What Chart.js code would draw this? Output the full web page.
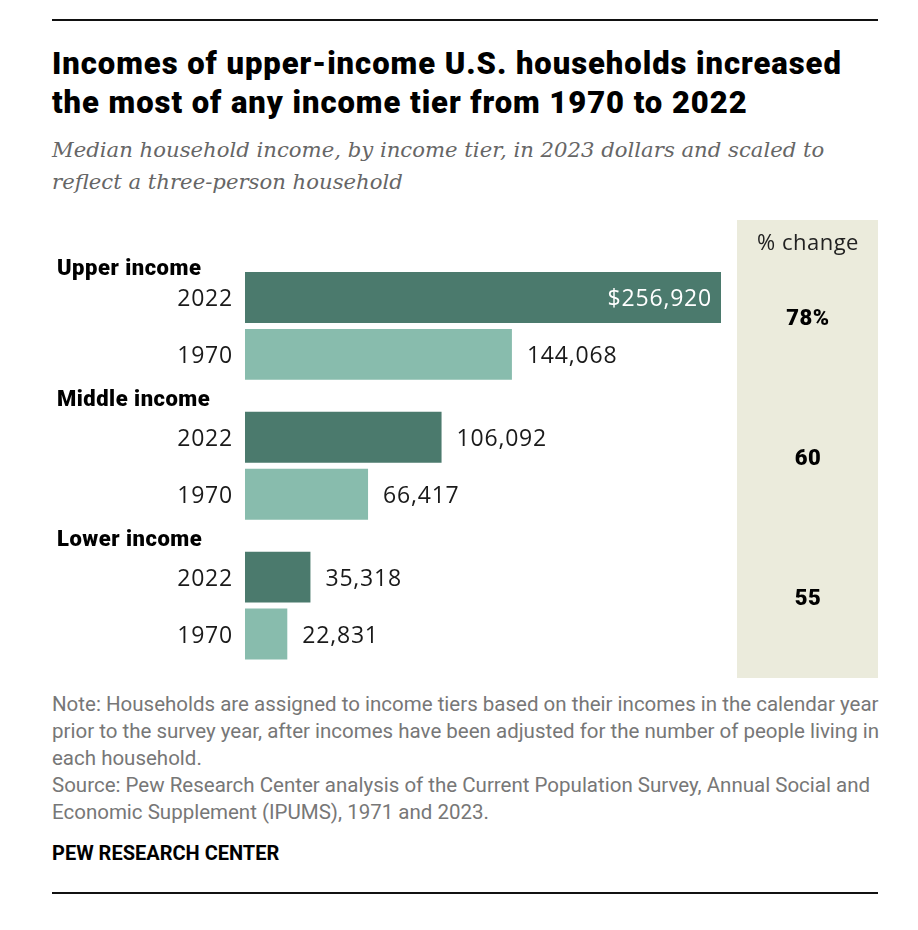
<!DOCTYPE html>
<html lang="en">
<head>
<meta charset="UTF-8">
<title>Incomes by income tier</title>
<script src="https://cdn.jsdelivr.net/npm/chart.js"></script>
<style>
  body { margin: 0; background: #fff; width: 918px; height: 930px; position: relative; overflow: hidden; }
  .rule { position: absolute; left: 52px; width: 826px; height: 2px; background: #111; }
  .title { position: absolute; left: 52px; top: 44px; font: 900 31px/39px Roboto, "Liberation Sans", sans-serif; color: #000; white-space: nowrap; letter-spacing: 0.95px; }
  .subtitle { position: absolute; left: 52px; top: 134px; font: italic 21.2px/32px "DejaVu Serif", serif; color: #666; white-space: nowrap; }
  .note { position: absolute; left: 52px; top: 691px; font: 20.5px/27px Roboto, sans-serif; color: #777; white-space: nowrap; letter-spacing: 0px; }
  .brand { position: absolute; left: 52px; top: 841px; font: bold 20px/24px Roboto, sans-serif; color: #000; white-space: nowrap; }
  #wrap { position: absolute; left: 0; top: 215px; width: 918px; height: 470px; }
</style>
</head>
<body>
<div class="rule" style="top:19px"></div>
<div class="title">Incomes of upper-income U.S. households increased<br>the most of any income tier from 1970 to 2022</div>
<div class="subtitle">Median household income, by income tier, in 2023 dollars and scaled to<br>reflect a three-person household</div>
<div id="wrap"><canvas id="chart" width="918" height="470"></canvas></div>
<div class="note">Note: Households are assigned to income tiers based on their incomes in the calendar year<br>prior to the survey year, after incomes have been adjusted for the number of people living in<br>each household.<br>Source: Pew Research Center analysis of the Current Population Survey, Annual Social and<br>Economic Supplement (IPUMS), 1971 and 2023.</div>
<div class="brand">PEW RESEARCH CENTER</div>
<div class="rule" style="top:892px"></div>
<script>
const tiers = ['Upper income', 'Middle income', 'Lower income'];
const years = ['2022', '1970'];
const income2022 = [256920, 106092, 35318];
const income1970 = [144068, 66417, 22831];
const pctChange = ['78%', '60', '55'];

const dark = '#4b7a6d';
const light = '#88bcad';
const numFont = '23px "Open Sans", Roboto, sans-serif';
const boldFont = '900 22px Roboto, "Liberation Sans", sans-serif';

// labels, year names, % change column
const labelPlugin = {
  id: 'labels',
  beforeDraw(chart) {
    const ctx = chart.ctx;
    ctx.save();
    ctx.fillStyle = '#ebebdc';
    ctx.fillRect(737, 5, 141, 458);
    ctx.fillStyle = '#222';
    ctx.font = '22px "Open Sans", Roboto, sans-serif';
    ctx.letterSpacing = '0.5px';
    ctx.textAlign = 'center';
    ctx.textBaseline = 'middle';
    ctx.fillText('% change', 808, 29);
    ctx.restore();
  },
  afterDatasetsDraw(chart) {
    const ctx = chart.ctx;
    const maxVal = Math.max(...income2022, ...income1970);
    ctx.save();
    ctx.textBaseline = 'middle';
    chart.data.datasets.forEach((ds, di) => {
      const meta = chart.getDatasetMeta(di);
      meta.data.forEach((bar, i) => {
        const v = ds.data[i];
        const txt = (i === 0 && di === 0 ? '$' : '') + v.toLocaleString('en-US');
        ctx.font = numFont;
        ctx.letterSpacing = '0.8px';
        // year label
        ctx.fillStyle = '#1a1a1a';
        ctx.textAlign = 'right';
        ctx.fillText(years[di], 233, bar.y + 2);
        if (v === maxVal) {
          ctx.fillStyle = '#fff';
          ctx.textAlign = 'right';
          ctx.fillText(txt, bar.x - 9, bar.y + 2);
        } else {
          ctx.fillStyle = '#1a1a1a';
          ctx.textAlign = 'left';
          ctx.fillText(txt, bar.x + 15, bar.y + 2);
        }
      });
    });
    // tier names and % change
    const m0 = chart.getDatasetMeta(0);
    const m1 = chart.getDatasetMeta(1);
    tiers.forEach((t, i) => {
      const top = m0.data[i].y - m0.data[i].height / 2;
      ctx.font = boldFont;
      ctx.letterSpacing = '0.5px';
      ctx.fillStyle = '#000';
      ctx.textAlign = 'left';
      ctx.fillText(t, 57, top - (i === 0 ? 2 : 11));
      const mid = (m0.data[i].y + m1.data[i].y) / 2;
      ctx.textAlign = 'center';
      ctx.fillText(pctChange[i], 808, mid - 6);
    });
    ctx.restore();
  }
};

new Chart(document.getElementById('chart'), {
  type: 'bar',
  data: {
    labels: tiers,
    datasets: [
      { label: years[0], data: income2022, backgroundColor: dark, barPercentage: 0.895, categoryPercentage: 0.814 },
      { label: years[1], data: income1970, backgroundColor: light, barPercentage: 0.895, categoryPercentage: 0.814 }
    ]
  },
  options: {
    indexAxis: 'y',
    responsive: false,
    animation: false,
    layout: { padding: { left: 245, right: 197, top: 41, bottom: 9.5 } },
    plugins: { legend: { display: false }, tooltip: { enabled: false } },
    scales: {
      x: { display: false, min: 0, max: Math.max(...income2022, ...income1970) },
      y: { display: false }
    }
  },
  plugins: [labelPlugin]
});
</script>
</body>
</html>
